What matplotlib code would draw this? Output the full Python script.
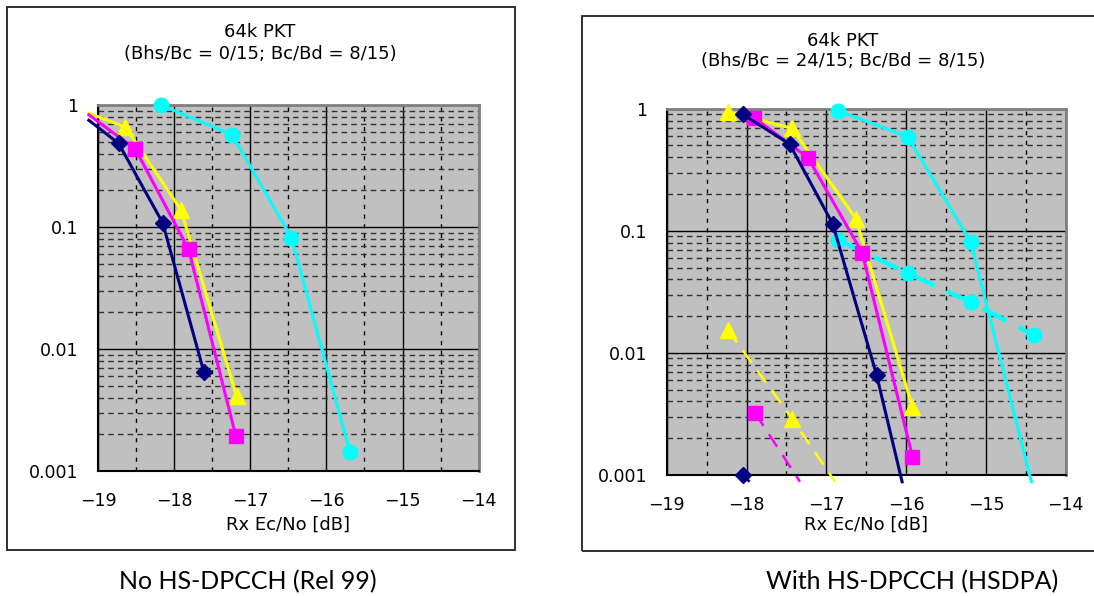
import matplotlib
matplotlib.use("Agg")
import matplotlib.pyplot as plt
from matplotlib.patches import Rectangle
from matplotlib.ticker import FixedLocator, NullFormatter, FixedFormatter

# ---------------- data ----------------
x_ticks = [-19, -18, -17, -16, -15, -14]
x_tick_labels = ["\u221219", "\u221218", "\u221217", "\u221216", "\u221215", "\u221214"]
y_ticks = [0.001, 0.01, 0.1, 1]
y_tick_labels = ["0.001", "0.01", "0.1", "1"]

title_line1 = "64k PKT"
subtitles = ["(Bhs/Bc = 0/15; Bc/Bd = 8/15)", "(Bhs/Bc = 24/15; Bc/Bd = 8/15)"]
x_label = "Rx Ec/No [dB]"
captions = ["No HS-DPCCH (Rel 99)", "With HS-DPCCH (HSDPA)"]

# Left panel (Rel 99) - first point of first three series is the line start (no marker)
r99_navy_x = [-19.12, -18.73, -18.15, -17.61]
r99_navy_y = [0.75, 0.485, 0.108, 0.0065]
r99_magenta_x = [-19.12, -18.51, -17.81, -17.19]
r99_magenta_y = [0.83, 0.436, 0.0656, 0.00194]
r99_yellow_x = [-19.12, -18.64, -17.91, -17.18]
r99_yellow_y = [0.855, 0.66, 0.138, 0.0041]
r99_cyan_x = [-18.17, -17.24, -16.46, -15.69]
r99_cyan_y = [1.0, 0.57, 0.082, 0.00142]

# Right panel (HSDPA) solid series
hs_navy_x = [-18.05, -17.46, -16.92, -16.37, -16.05]
hs_navy_y = [0.90, 0.514, 0.114, 0.0066, 0.00088]
hs_magenta_x = [-17.90, -17.23, -16.55, -15.92]
hs_magenta_y = [0.84, 0.397, 0.066, 0.00141]
hs_yellow_x = [-18.23, -17.43, -16.63, -15.92]
hs_yellow_y = [0.94, 0.69, 0.126, 0.0036]
hs_cyan_x = [-16.85, -15.98, -15.19, -14.43]
hs_cyan_y = [0.96, 0.59, 0.081, 0.00088]
# Right panel dashed series
hsd_navy_x = [-18.05, -17.96]
hsd_navy_y = [0.001, 0.00088]
hsd_magenta_x = [-17.89, -17.33]
hsd_magenta_y = [0.0032, 0.00088]
hsd_yellow_x = [-18.23, -17.43, -16.89]
hsd_yellow_y = [0.0154, 0.0029, 0.00088]
hsd_cyan_x = [-16.85, -15.98, -15.19, -14.40]
hsd_cyan_y = [0.084, 0.045, 0.026, 0.014]

NAVY, MAG, YEL, CYAN = "#000080", "#FF00FF", "#FFFF00", "#00FFFF"
CHART_FONT = "DejaVu Sans"

fig = plt.figure(figsize=(10.94, 5.96), dpi=100)
W, H = 1094, 596


def px_axes(x0, x1, ytop, ybot):
    return fig.add_axes([x0 / W, 1 - ybot / H, (x1 - x0) / W, (ybot - ytop) / H])


def style_axes(ax):
    ax.set_facecolor("#C0C0C0")
    ax.set_yscale("log")
    ax.set_xlim(-19, -14)
    ax.set_ylim(0.001, 1)
    ax.xaxis.set_major_locator(FixedLocator(x_ticks))
    ax.xaxis.set_major_formatter(FixedFormatter(x_tick_labels))
    ax.xaxis.set_minor_locator(FixedLocator([v + 0.5 for v in x_ticks[:-1]]))
    ax.yaxis.set_major_locator(FixedLocator(y_ticks))
    ax.yaxis.set_major_formatter(FixedFormatter(y_tick_labels))
    ax.yaxis.set_minor_locator(FixedLocator([m * 10.0 ** e for e in (-3, -2, -1) for m in range(2, 10)]))
    ax.yaxis.set_minor_formatter(NullFormatter())
    ax.xaxis.set_minor_formatter(NullFormatter())
    ax.grid(which="major", color="black", lw=1.0, ls="-")
    ax.grid(which="minor", axis="y", color="#303030", lw=1.0, ls=(0, (4, 3)))
    ax.grid(which="minor", axis="x", color="black", lw=1.0, ls=(0, (3, 4)))
    ax.set_axisbelow(True)
    ax.tick_params(which="both", length=0)
    ax.tick_params(axis="x", pad=15, labelsize=12.5)
    ax.tick_params(axis="y", pad=14, labelsize=12.5)
    for lab in ax.get_xticklabels() + ax.get_yticklabels():
        lab.set_fontfamily(CHART_FONT)
    for s in ("top", "right"):
        ax.spines[s].set_color("#808080")
        ax.spines[s].set_linewidth(2)
    for s in ("left", "bottom"):
        ax.spines[s].set_color("black")
        ax.spines[s].set_linewidth(1.5)


def draw(ax, x, y, color, marker, ms, lw=2.2, ls="-", markevery=None):
    ax.plot(x, y, color=color, lw=lw, ls=ls, marker=marker, ms=ms, mec=color,
            mfc=color, markevery=markevery, clip_on=False, zorder=3)


# frames
fig.add_artist(Rectangle((7 / W, 1 - 550 / H), 508 / W, 543 / H, transform=fig.transFigure,
                         fill=False, ec="#202020", lw=1.3))
fig.add_artist(Rectangle((582 / W, 1 - 551 / H), 530 / W, 535 / H, transform=fig.transFigure,
                         fill=False, ec="#202020", lw=1.3))

# ---------- left panel ----------
axL = px_axes(98, 478.7, 105, 471)
style_axes(axL)
skip_first = [1, 2, 3]
draw(axL, r99_cyan_x, r99_cyan_y, CYAN, "o", 10.5)
draw(axL, r99_yellow_x, r99_yellow_y, YEL, "^", 11, markevery=skip_first)
draw(axL, r99_magenta_x, r99_magenta_y, MAG, "s", 10, markevery=skip_first)
draw(axL, r99_navy_x, r99_navy_y, NAVY, "D", 8.5, markevery=skip_first)

# ---------- right panel ----------
axR = px_axes(666.7, 1065.7, 108.7, 475)
style_axes(axR)
draw(axR, hsd_cyan_x, hsd_cyan_y, CYAN, "o", 10.5, lw=3.2, ls=(0, (6, 3)))
draw(axR, hsd_yellow_x, hsd_yellow_y, YEL, "^", 11, lw=1.8, ls=(0, (6, 4)), markevery=[0, 1])
draw(axR, hsd_magenta_x, hsd_magenta_y, MAG, "s", 10, lw=1.8, ls=(0, (6, 4)), markevery=[0])
draw(axR, hsd_navy_x, hsd_navy_y, NAVY, "D", 8.5, lw=1.8, ls=(0, (6, 4)), markevery=[0])
draw(axR, hs_cyan_x, hs_cyan_y, CYAN, "o", 10.5, markevery=[0, 1, 2])
draw(axR, hs_yellow_x, hs_yellow_y, YEL, "^", 11)
draw(axR, hs_magenta_x, hs_magenta_y, MAG, "s", 10)
draw(axR, hs_navy_x, hs_navy_y, NAVY, "D", 8.5, markevery=[0, 1, 2, 3])

# texts
for cx, y1, y2, sub in ((260, 32, 54, subtitles[0]), (843, 41, 61, subtitles[1])):
    fig.text(cx / W, 1 - y1 / H, title_line1, ha="center", va="center", fontsize=13,
             family=CHART_FONT)
    fig.text(cx / W, 1 - y2 / H, sub, ha="center", va="center", fontsize=13,
             family=CHART_FONT)
fig.text(288 / W, 1 - 525 / H, x_label, ha="center", va="center", fontsize=13, family=CHART_FONT)
fig.text(866 / W, 1 - 525 / H, x_label, ha="center", va="center", fontsize=13, family=CHART_FONT)
fig.text(248 / W, 1 - 582 / H, captions[0], ha="center", va="center", fontsize=18, family="Lato")
fig.text(912.5 / W, 1 - 582 / H, captions[1], ha="center", va="center", fontsize=18, family="Lato")

fig.savefig("out.png", dpi=100)
